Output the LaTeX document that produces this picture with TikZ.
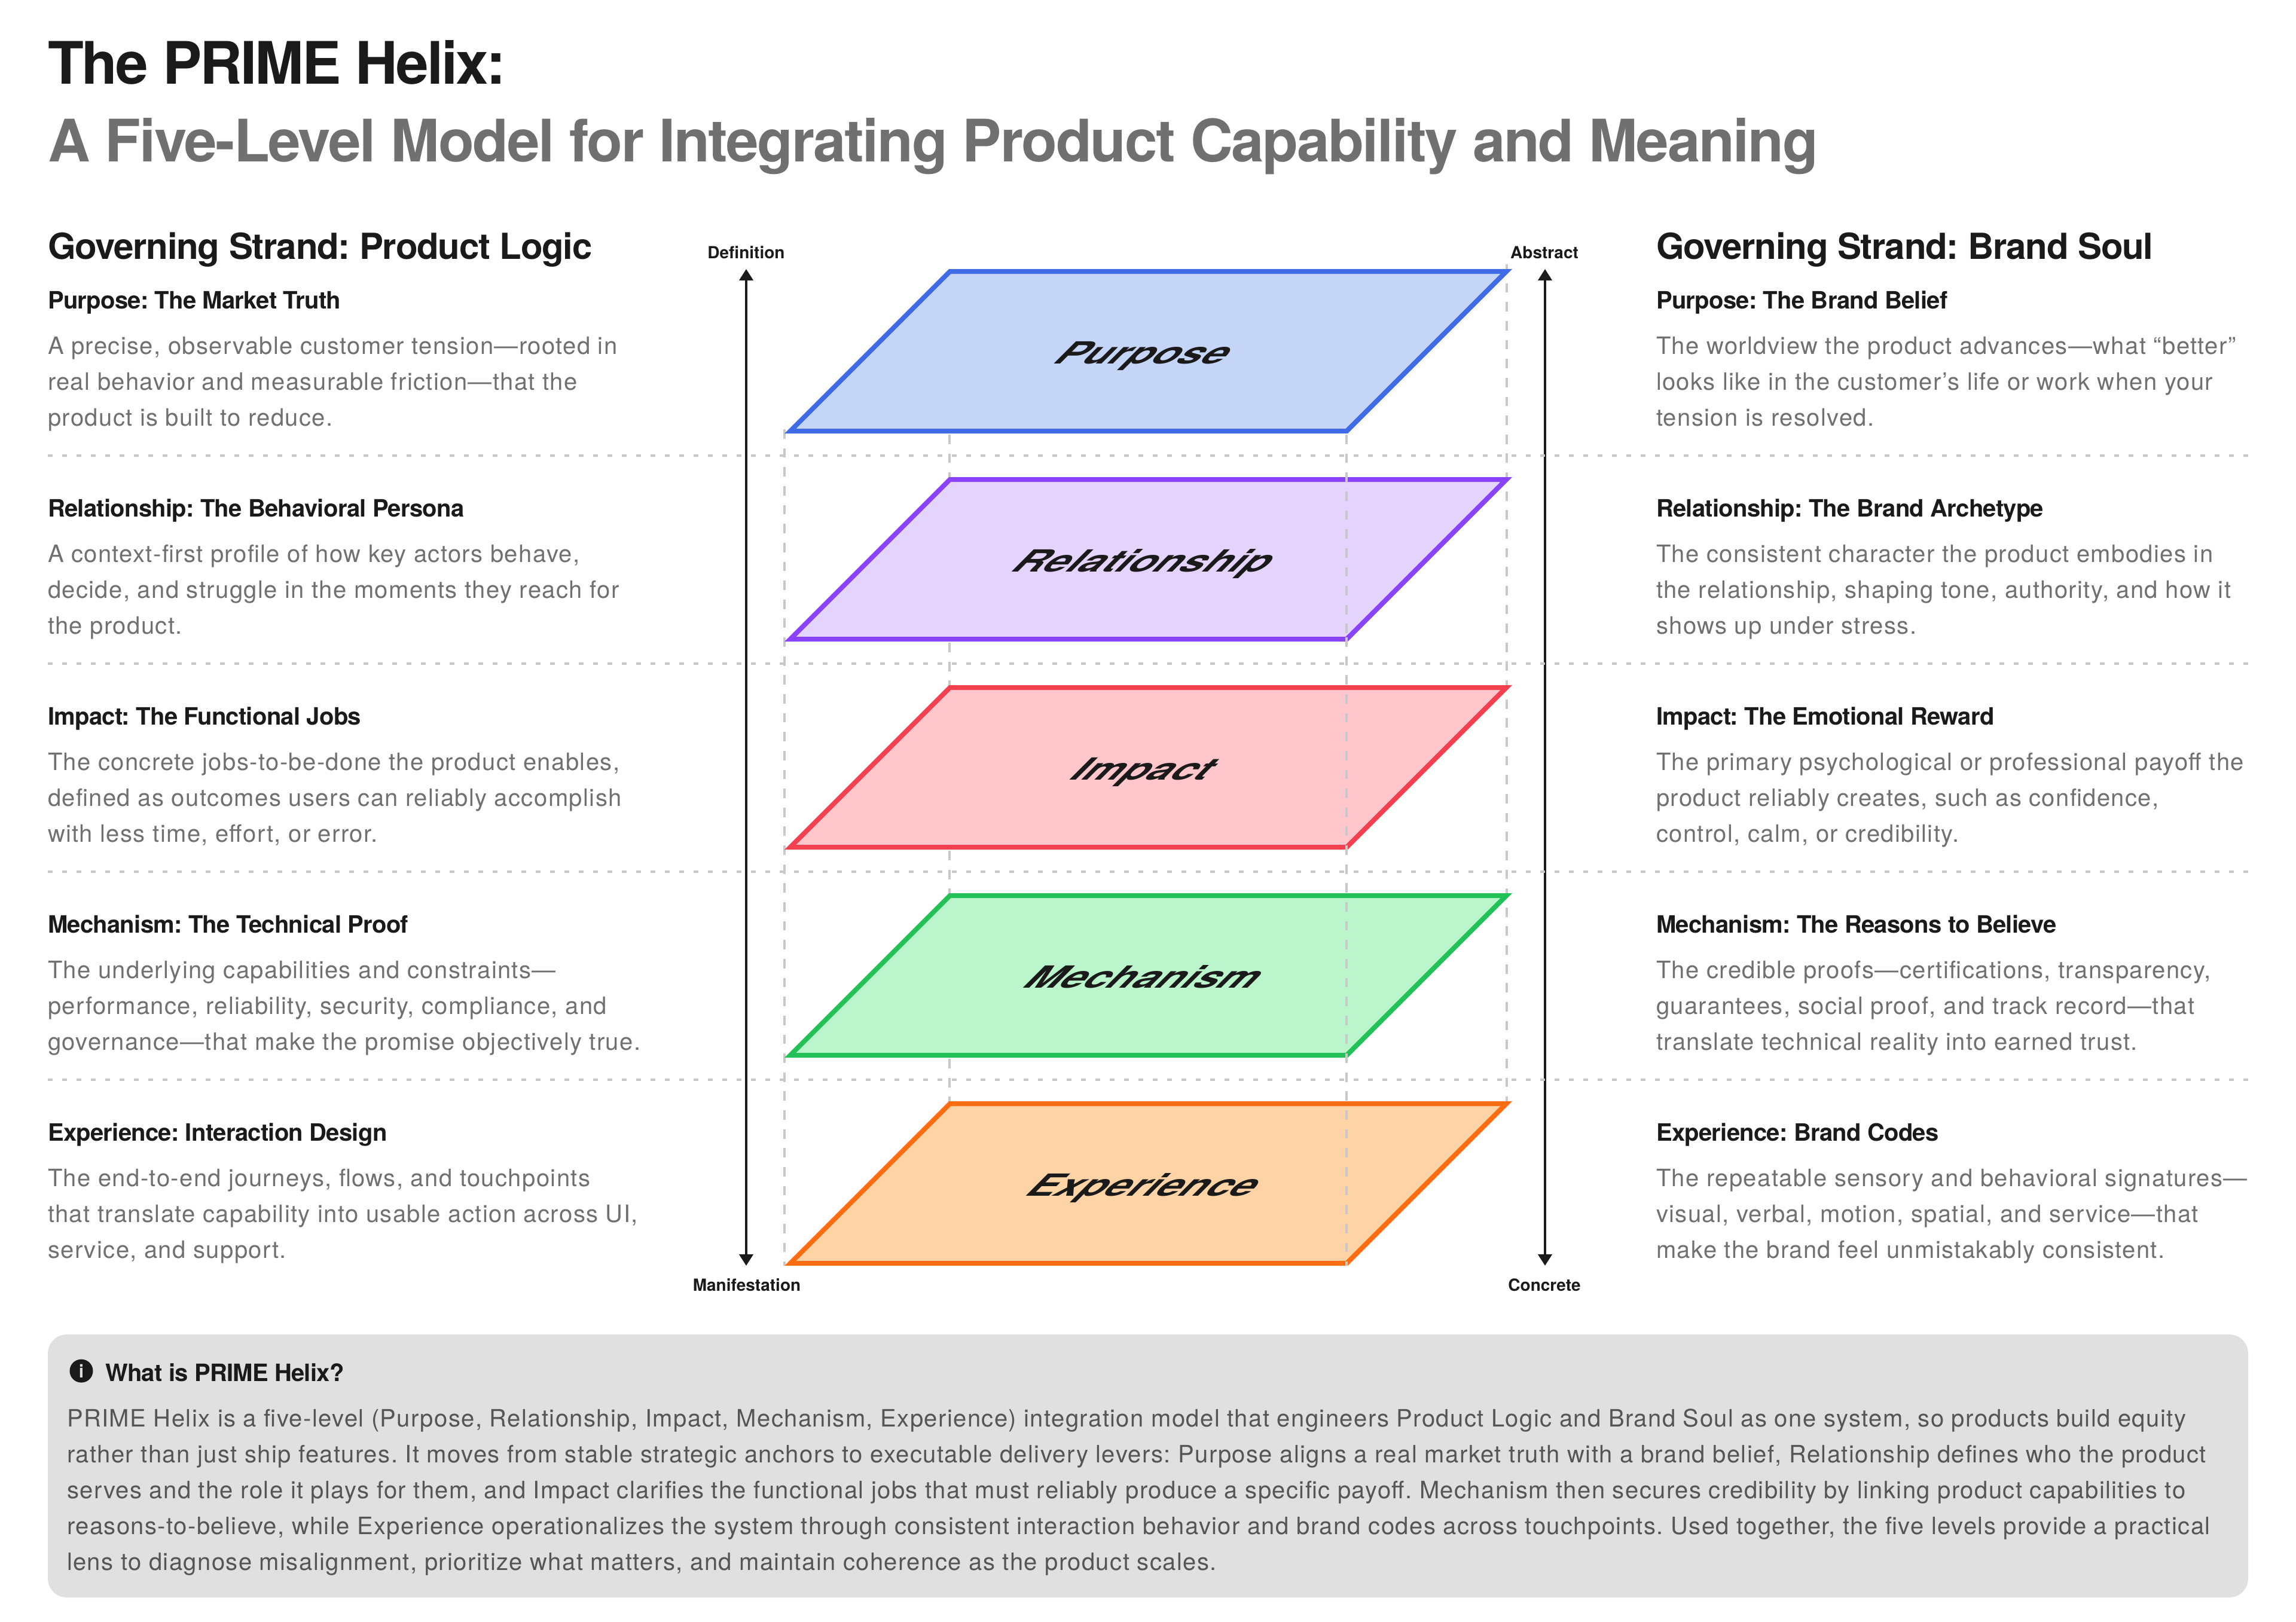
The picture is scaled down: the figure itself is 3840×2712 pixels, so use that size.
\documentclass[tikz,border=0pt]{standalone}
\usepackage{fontspec}
\setmainfont{TeX Gyre Heros}
\usepackage{xcolor}
\definecolor{ink}         {HTML}{1A1A1A}
\definecolor{muted}       {HTML}{707070}
\definecolor{boxText}     {HTML}{555555}
\definecolor{boxBack}     {HTML}{E0E0E0}
\definecolor{guideGrey}   {HTML}{C8C8C8}
\definecolor{purposeLine} {HTML}{3F6CE6}
\definecolor{purposeBack} {HTML}{C4D5F7}
\definecolor{relationLine}{HTML}{8A43FA}
\definecolor{relationBack}{HTML}{E4D4FD}
\definecolor{impactLine}  {HTML}{F4404F}
\definecolor{impactBack}  {HTML}{FFC7CB}
\definecolor{mechLine}    {HTML}{22C158}
\definecolor{mechBack}    {HTML}{BBF5CB}
\definecolor{expLine}     {HTML}{FF6D12}
\definecolor{expBack}     {HTML}{FED3A6}
\usetikzlibrary{arrows.meta, positioning, calc}
\AtBeginDocument{\frenchspacing}
\tikzset{
    every node/.style={inner sep=0pt, outer sep=0pt},
    titletext/.style={anchor=base west, text=ink,
                      font=\fontsize{24.5}{30}\bfseries\selectfont\addfontfeature{LetterSpace=-3.1}},
    subtitletext/.style={anchor=base west, text=muted,
                         font=\fontsize{24.5}{30}\bfseries\selectfont\addfontfeature{LetterSpace=-2.4}},
    strandhead/.style={anchor=base west, text=ink,
                       font=\fontsize{15}{18}\bfseries\selectfont\addfontfeature{LetterSpace=-2.1}},
    itemhead/.style={anchor=base west, text=ink,
                     font=\fontsize{10}{15}\bfseries\selectfont\addfontfeature{LetterSpace=-1.8}},
    itembody/.style={anchor=base west, align=left, text=muted,
                     font=\fontsize{10}{15}\selectfont\addfontfeature{LetterSpace=3.5}},
    axislabel/.style={anchor=base, font=\fontsize{7}{9}\bfseries\selectfont, text=ink},
    planelabel/.style={anchor=base, xslant=1, yscale=.72, transform shape,
                       font=\fontsize{17.7}{20}\bfseries\selectfont, text=ink},
    plane/.style={line width=2pt, line join=miter},
    purposeplane/.style={plane, draw=purposeLine, fill=purposeBack},
    relationplane/.style={plane, draw=relationLine, fill=relationBack},
    impactplane/.style={plane, draw=impactLine, fill=impactBack},
    mechplane/.style={plane, draw=mechLine, fill=mechBack},
    expplane/.style={plane, draw=expLine, fill=expBack},
    guide/.style={line width=1pt, guideGrey, dash pattern=on 3.95pt off 3.96pt},
    rowline/.style={line width=1pt, guideGrey, dash pattern=on 2pt off 4pt},
    axis/.style={{Triangle[length=4.75pt, width=5.75pt]}-{Triangle[length=4.75pt, width=5.75pt]},
                 line width=1pt, ink},
}

\begin{document}
\begin{tikzpicture}[x=.25pt, y=-.25pt]
    \useasboundingbox (0,0) rectangle (3840,2712);

    % heading
    \node[titletext] (title) at (80,140) {The PRIME Helix:};
    \node[subtitletext] (subtitle) at (80,270) {A Five-Level Model for Integrating Product Capability and Meaning};

    % left strand
    \node[strandhead] (logicHead) at (80,433) {Governing Strand: Product Logic};
    \node[itemhead] (logicA) at (80,516) {Purpose: The Market Truth};
    \node[itembody] (logicAText) at (80,712) {A precise, observable customer tension—rooted in\\real behavior and measurable friction—that the\\product is built to reduce.};
    \node[itemhead] (logicB) at (80,864) {Relationship: The Behavioral Persona};
    \node[itembody] (logicBText) at (80,1060) {A context-first profile of how key actors behave,\\decide, and struggle in the moments they reach for\\the product.};
    \node[itemhead] (logicC) at (80,1212) {Impact: The Functional Jobs};
    \node[itembody] (logicCText) at (80,1408) {The concrete jobs-to-be-done the product enables,\\defined as outcomes users can reliably accomplish\\with less time, effort, or error.};
    \node[itemhead] (logicD) at (80,1560) {Mechanism: The Technical Proof};
    \node[itembody] (logicDText) at (80,1756) {The underlying capabilities and constraints—\\performance, reliability, security, compliance, and\\governance—that make the promise objectively true.};
    \node[itemhead] (logicE) at (80,1908) {Experience: Interaction Design};
    \node[itembody] (logicEText) at (80,2104) {The end-to-end journeys, flows, and touchpoints\\that translate capability into usable action across UI,\\service, and support.};

    % right strand
    \node[strandhead] (soulHead) at (2770,433) {Governing Strand: Brand Soul};
    \node[itemhead] (soulA) at (2770,516) {Purpose: The Brand Belief};
    \node[itembody] (soulAText) at (2770,712) {The worldview the product advances—what “better”\\looks like in the customer’s life or work when your\\tension is resolved.};
    \node[itemhead] (soulB) at (2770,864) {Relationship: The Brand Archetype};
    \node[itembody] (soulBText) at (2770,1060) {The consistent character the product embodies in\\the relationship, shaping tone, authority, and how it\\shows up under stress.};
    \node[itemhead] (soulC) at (2770,1212) {Impact: The Emotional Reward};
    \node[itembody] (soulCText) at (2770,1408) {The primary psychological or professional payoff the\\product reliably creates, such as confidence,\\control, calm, or credibility.};
    \node[itemhead] (soulD) at (2770,1560) {Mechanism: The Reasons to Believe};
    \node[itembody] (soulDText) at (2770,1756) {The credible proofs—certifications, transparency,\\guarantees, social proof, and track record—that\\translate technical reality into earned trust.};
    \node[itemhead] (soulE) at (2770,1908) {Experience: Brand Codes};
    \node[itembody] (soulEText) at (2770,2104) {The repeatable sensory and behavioral signatures—\\visual, verbal, motion, spatial, and service—that\\make the brand feel unmistakably consistent.};

    % axes
    \node[axislabel] (definition) at (1248,432) {Definition};
    \node[axislabel] (abstract) at (2583,432) {Abstract};
    \node[axislabel] (manifestation) at (1249,2159) {Manifestation};
    \node[axislabel] (concrete) at (2583,2159) {Concrete};
    \coordinate (defTip) at (1248,450);
    \coordinate (manTip) at (1248,2117);
    \coordinate (absTip) at (2584,450);
    \coordinate (conTip) at (2584,2117);
    \draw[axis] (defTip) -- (manTip);
    \draw[axis] (absTip) -- (conTip);

    % guides behind the planes
    \coordinate (guideAtop) at (1312,718);
    \coordinate (guideAend) at (1312,2117);
    \coordinate (guideBtop) at (1588,727);
    \coordinate (guideBend) at (1588,1846);
    \coordinate (guideDtop) at (2520,442);
    \coordinate (guideDend) at (2520,1846);
    \draw[guide] (guideAtop) -- (guideAend);
    \draw[guide] (guideBtop) -- (guideBend);
    \draw[guide] (guideDtop) -- (guideDend);

    % planes
    \draw[purposeplane] (1321.7,721) -- (1588.7,454) -- (2519.3,454) -- (2252.3,721) -- cycle;
    \draw[relationplane] (1321.7,1069) -- (1588.7,802) -- (2519.3,802) -- (2252.3,1069) -- cycle;
    \draw[impactplane] (1321.7,1417) -- (1588.7,1150) -- (2519.3,1150) -- (2252.3,1417) -- cycle;
    \draw[mechplane] (1321.7,1765) -- (1588.7,1498) -- (2519.3,1498) -- (2252.3,1765) -- cycle;
    \draw[expplane] (1321.7,2113) -- (1588.7,1846) -- (2519.3,1846) -- (2252.3,2113) -- cycle;
    \node[planelabel] (purposeName) at (1899,608) {Purpose};
    \node[planelabel] (relationName) at (1899,956) {Relationship};
    \node[planelabel] (impactName) at (1899,1304) {Impact};
    \node[planelabel] (mechName) at (1899,1652) {Mechanism};
    \node[planelabel] (expName) at (1899,2000) {Experience};

    % guide over the planes
    \coordinate (guideCtop) at (2252,727);
    \coordinate (guideCmid) at (2252,1062);
    \coordinate (guideCnext) at (2252,1066);
    \coordinate (guideCend) at (2252,2117);
    \draw[guide] (guideCtop) -- (guideCmid);
    \draw[guide] (guideCnext) -- (guideCend);

    % row lines
    \coordinate (rowAw) at (80,762);
    \coordinate (rowAe) at (3760,762);
    \coordinate (rowBw) at (80,1110);
    \coordinate (rowBe) at (3760,1110);
    \coordinate (rowCw) at (80,1458);
    \coordinate (rowCe) at (3760,1458);
    \coordinate (rowDw) at (80,1806);
    \coordinate (rowDe) at (3760,1806);
    \draw[rowline] (rowAw) -- (rowAe);
    \draw[rowline] (rowBw) -- (rowBe);
    \draw[rowline] (rowCw) -- (rowCe);
    \draw[rowline] (rowDw) -- (rowDe);

    % info box
    \fill[boxBack, rounded corners=8pt] (80,2232) rectangle (3760,2672);
    \node[circle, fill=ink, minimum size=9.75pt, text=boxBack, font=\fontsize{7.5}{9}\bfseries\selectfont] (infoIcon) at (136,2293) {i};
    \node[itemhead] (infoHead) at (176,2310) {What is PRIME Helix?};
    \node[itembody, text=boxText, font=\fontsize{10}{15}\selectfont\addfontfeature{LetterSpace=3.55}] (infoText) at (112,2626) {PRIME Helix is a five-level (Purpose, Relationship, Impact, Mechanism, Experience) integration model that engineers Product Logic and Brand Soul as one system, so products build equity\\rather than just ship features. It moves from stable strategic anchors to executable delivery levers: Purpose aligns a real market truth with a brand belief, Relationship defines who the product\\serves and the role it plays for them, and Impact clarifies the functional jobs that must reliably produce a specific payoff. Mechanism then secures credibility by linking product capabilities to\\reasons-to-believe, while Experience operationalizes the system through consistent interaction behavior and brand codes across touchpoints. Used together, the five levels provide a practical\\lens to diagnose misalignment, prioritize what matters, and maintain coherence as the product scales.};
\end{tikzpicture}
\end{document}
